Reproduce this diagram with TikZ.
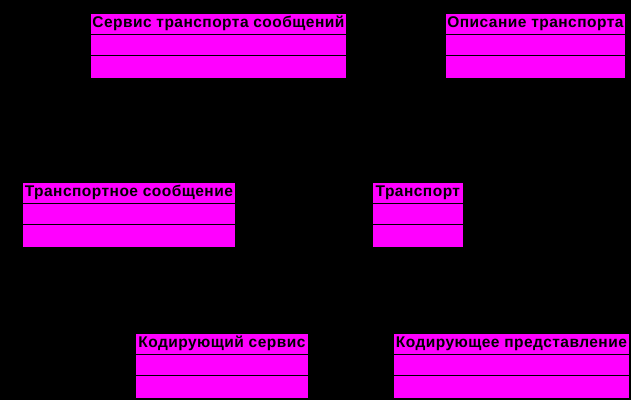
\documentclass[tikz,border=0pt]{standalone}
\usepackage{fontspec}
\setmainfont{Liberation Sans}[LetterSpace=3]
\definecolor{classfill}{RGB}{255,0,255}
\begin{document}
\begin{tikzpicture}[x=1pt,y=-1pt,
    classbox/.style={fill=classfill,draw=black,line width=0.8pt,anchor=north west,inner sep=0pt,minimum height=64.5},
    classname/.style={font=\fontsize{15.5}{17}\selectfont\bfseries,inner sep=0pt,anchor=base}]
  \fill[black] (0,0) rectangle (631,400);
  \useasboundingbox (0,0) rectangle (631,400);
  \foreach \n/\x/\y/\w/\t in {
      svc/90/13/256/Сервис транспорта сообщений,
      desc/445/13/180/Описание транспорта,
      msg/22/182/213/Транспортное сообщение,
      tr/372/182/91/Транспорт,
      enc/135/333/173/Кодирующий сервис,
      rep/393/333/236/Кодирующее представление}
  {
    \node[classbox,minimum width=\w] (\n) at (\x,\y) {};
    \draw ([yshift=-21pt]\n.north west) -- ([yshift=-21pt]\n.north east);
    \draw ([yshift=-42.5pt]\n.north west) -- ([yshift=-42.5pt]\n.north east);
    \node[classname] (\n-name) at ([yshift=-14.5pt]\n.north) {\t};
  }
\end{tikzpicture}
\end{document}
